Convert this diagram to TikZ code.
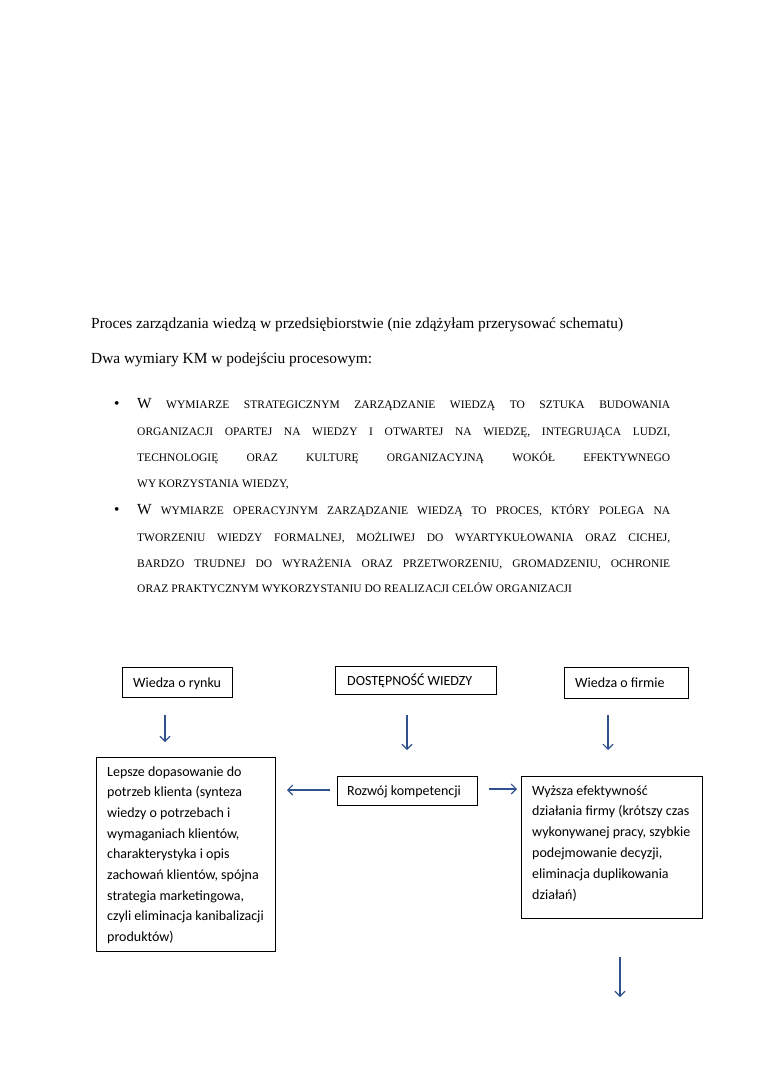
\documentclass[tikz,border=0pt]{standalone}
\usepackage{fontspec}
\setmainfont{Liberation Serif}
\newfontfamily\calfont{Carlito}
\usetikzlibrary{arrows.meta}
\definecolor{arrblue}{RGB}{47,82,143}
\newcommand{\smc}[1]{{\fontsize{11.5}{12}\selectfont #1}}
\newcommand{\jline}[1]{\makebox[533pt][s]{#1}}
\newcommand{\dfont}{\calfont\fontsize{14}{16}\selectfont}
\begin{document}
\begin{tikzpicture}[x=1pt,y=-1pt,
  body/.style={inner sep=0pt, anchor=base west, font=\fontsize{15.4}{18}\selectfont},
  box/.style={draw=black, line width=0.9pt, inner sep=0pt},
  dtxt/.style={inner sep=0pt, anchor=base west},
  arr/.style={draw=arrblue, line width=1.1pt, -{Straight Barb[length=5pt,width=10pt]}}]
\fill[white] (0,0) rectangle (760,1075);
\useasboundingbox (0,0) rectangle (760,1075);

\node[body] (title) at (91,328) {Proces zarządzania wiedzą w przedsiębiorstwie (nie zdążyłam przerysować schematu)};
\node[body] (sub) at (91,363) {Dwa wymiary KM w podejściu procesowym:};

\node[body] (bul1) at (114,408) {•};
\node[body] (l1) at (137,408) {\jline{W\smc{ WYMIARZE STRATEGICZNYM ZARZĄDZANIE WIEDZĄ TO SZTUKA BUDOWANIA}}};
\node[body] (l2) at (137,435) {\jline{\smc{ORGANIZACJI OPARTEJ NA WIEDZY I OTWARTEJ NA WIEDZĘ, INTEGRUJĄCA LUDZI,}}};
\node[body] (l3) at (137,461) {\jline{\smc{TECHNOLOGIĘ ORAZ KULTURĘ ORGANIZACYJNĄ WOKÓŁ EFEKTYWNEGO}}};
\node[body] (l4) at (137,487) {\smc{WY\kern2pt KORZYSTANIA WIEDZY,}};

\node[body] (bul2) at (114,514) {•};
\node[body] (m1) at (137,514) {\jline{W\smc{ WYMIARZE OPERACYJNYM ZARZĄDZANIE WIEDZĄ TO PROCES, KTÓRY POLEGA NA}}};
\node[body] (m2) at (137,541) {\jline{\smc{TWORZENIU WIEDZY FORMALNEJ, MOŻLIWEJ DO WYARTYKUŁOWANIA ORAZ CICHEJ,}}};
\node[body] (m3) at (137,567) {\jline{\smc{BARDZO TRUDNEJ DO WYRAŻENIA ORAZ PRZETWORZENIU, GROMADZENIU, OCHRONIE}}};
\node[body] (m4) at (137,592) {\smc{ORAZ PRAKTYCZNYM WYKORZYSTANIU DO REALIZACJI CELÓW ORGANIZACJI}};

% top boxes
\node[box, minimum width=110pt, minimum height=30pt] (rynek) at (177,682) {};
\node[dtxt] (rynekT) at (133,687) {\dfont Wiedza o rynku};
\node[box, minimum width=161pt, minimum height=28pt] (dost) at (415.5,680) {};
\node[dtxt] (dostT) at (347,685) {\dfont DOSTĘPNOŚĆ WIEDZY};
\node[box, minimum width=124pt, minimum height=31pt] (firma) at (626,682.5) {};
\node[dtxt] (firmaT) at (575,687) {\dfont Wiedza o firmie};

% down arrows
\coordinate (a1s) at (165,715); \coordinate (a1e) at (165,742);
\coordinate (a2s) at (407,715); \coordinate (a2e) at (407,750);
\coordinate (a3s) at (608,715); \coordinate (a3e) at (608,750);
\draw[arr] (a1s) -- (a1e);
\draw[arr] (a2s) -- (a2e);
\draw[arr] (a3s) -- (a3e);

% middle row
\node[box, minimum width=179pt, minimum height=194pt] (lewy) at (185.5,854) {};
\node[dtxt] (lewyT) at (107,776) {\parbox[t]{170pt}{\raggedright\calfont\fontsize{14}{20.7}\selectfont
Lepsze dopasowanie do\\ potrzeb klienta (synteza\\ wiedzy o potrzebach i\\ wymaganiach klientów,\\ charakterystyka i opis\\ zachowań klientów, spójna\\ strategia marketingowa,\\ czyli eliminacja kanibalizacji\\ produktów)}};

\node[box, minimum width=140pt, minimum height=29pt] (rozwoj) at (407,790.5) {};
\node[dtxt] (rozwojT) at (347,795) {\dfont Rozwój kompetencji};

\node[box, minimum width=181pt, minimum height=142pt] (prawy) at (611.5,847) {};
\node[dtxt] (prawyT) at (532,795) {\parbox[t]{170pt}{\raggedright\calfont\fontsize{14}{20.9}\selectfont
Wyższa efektywność\\ działania firmy (krótszy czas\\ wykonywanej pracy, szybkie\\ podejmowanie decyzji,\\ eliminacja duplikowania\\ działań)}};

\coordinate (hl1) at (330,790); \coordinate (hl2) at (287,790);
\coordinate (hr1) at (489,789); \coordinate (hr2) at (517,789);
\draw[arr] (hl1) -- (hl2);
\draw[arr] (hr1) -- (hr2);

\coordinate (b1) at (620,957); \coordinate (b2) at (620,997);
\draw[arr] (b1) -- (b2);
\end{tikzpicture}
\end{document}
